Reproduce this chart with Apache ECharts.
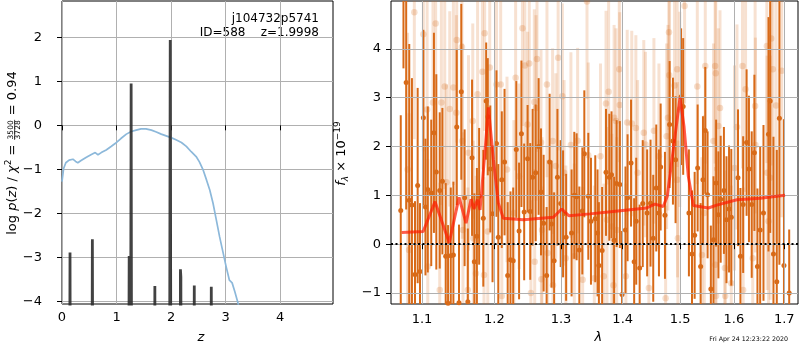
<!DOCTYPE html>
<html><head><meta charset="utf-8">
<script src="https://cdn.jsdelivr.net/npm/echarts@6/dist/echarts.min.js"></script>
<style>html,body{margin:0;padding:0;background:#fff}#c{width:800px;height:350px}</style>
</head><body><div id="c"></div>
<script>
// ---------- data ----------
const zTicks = [0, 1, 2, 3, 4];
const pTicks = [-4, -3, -2, -1, 0, 1, 2];
const lamTicks = [1.1, 1.2, 1.3, 1.4, 1.5, 1.6, 1.7];
const fTicks = [-1, 0, 1, 2, 3, 4];

// chi2 curve (z, scaled)
const chi2Curve = [[0,-1.28],[0.03,-0.98],[0.07,-0.85],[0.13,-0.79],[0.20,-0.77],[0.25,-0.82],[0.29,-0.85],[0.35,-0.80],[0.44,-0.73],[0.53,-0.67],[0.61,-0.62],[0.66,-0.67],[0.72,-0.62],[0.81,-0.56],[0.90,-0.48],[1.00,-0.39],[1.08,-0.30],[1.18,-0.20],[1.27,-0.14],[1.36,-0.11],[1.45,-0.08],[1.54,-0.08],[1.64,-0.11],[1.73,-0.15],[1.82,-0.20],[1.91,-0.24],[2.00,-0.28],[2.09,-0.33],[2.19,-0.39],[2.28,-0.48],[2.37,-0.60],[2.46,-0.71],[2.52,-0.83],[2.59,-1.02],[2.65,-1.24],[2.71,-1.47],[2.77,-1.77],[2.83,-2.15],[2.89,-2.53],[2.95,-2.87],[3.01,-3.21],[3.07,-3.52],[3.12,-3.58],[3.17,-3.78],[3.23,-4.05],[3.27,-4.30]];

// log p(z)
const logPz = [[0.0,-12],[0.13,-12],[0.147,-2.89],[0.16,-12],[0.54,-12],[0.557,-2.59],[0.575,-12],[1.21,-12],[1.232,-2.97],[1.245,-12],[1.255,-8],[1.268,0.95],[1.282,-12],[1.69,-12],[1.703,-3.65],[1.716,-12],[1.965,-12],[1.985,1.94],[2.005,-12],[2.16,-12],[2.172,-3.27],[2.18,-3.45],[2.19,-12],[2.41,-12],[2.426,-3.64],[2.44,-12],[2.72,-12],[2.738,-3.67],[2.755,-12],[4.97,-12]];

// model (lambda, flux)
const modelLine = [[1.0735,0.24],[1.1016,0.26],[1.1174,0.87],[1.1366,0.03],[1.1501,0.96],[1.1598,0.43],[1.1668,0.92],[1.1710,0.72],[1.1757,0.91],[1.1795,0.70],[1.1867,1.94],[1.1914,2.80],[1.1985,1.73],[1.2057,0.84],[1.2129,0.53],[1.2424,0.50],[1.2880,0.55],[1.3011,0.72],[1.3126,0.58],[1.3459,0.62],[1.3840,0.67],[1.4408,0.74],[1.4553,0.82],[1.4699,0.77],[1.4770,0.98],[1.4877,1.94],[1.4998,3.00],[1.5070,2.41],[1.5148,1.39],[1.5240,0.79],[1.5517,0.74],[1.5675,0.80],[1.6059,0.91],[1.6515,0.94],[1.7015,1.00]];

// dark spectrum points (lambda, flux, err)
const specDark = [[1.0723,0.69,1.95],[1.0758,5.3,1.7],[1.0793,3.31,2.6],[1.0833,0.9,3.2],[1.0868,0.8,2.6],[1.0908,-0.62,1.5],[1.0943,1.2,2.0],[1.0974,-0.56,1.4],[1.1018,2.59,1.8],[1.1046,0.76,1.4],[1.1077,1.12,1.7],[1.1123,1.05,1.5],[1.1159,2.28,2.05],[1.1191,1.48,2.0],[1.1237,1.10,1.6],[1.1273,1.29,1.5],[1.1318,-0.25,1.5],[1.1350,-1.21,1.6],[1.1387,-0.24,1.4],[1.1423,-0.22,1.5],[1.1469,2.40,1.6],[1.1500,-1.20,1.6],[1.1532,3.12,1.8],[1.1578,0.95,1.4],[1.1623,-1.18,1.5],[1.1682,1.77,1.6],[1.1714,-0.36,1.4],[1.1750,0.16,1.4],[1.1782,0.98,1.4],[1.1841,0.53,1.4],[1.1882,2.93,1.2],[1.1905,2.61,1.2],[1.1941,1.54,1.3],[1.1973,0.62,1.4],
[1.2030,2.06,1.5],[1.2056,0.14,1.5],[1.2107,1.32,1.4],[1.2147,1.68,1.5],[1.2193,-0.64,1.5],[1.2234,-0.32,1.4],[1.2274,-0.34,1.5],[1.2320,1.94,1.4],[1.2361,0.27,1.4],[1.2396,2.26,1.5],[1.2437,0.66,1.4],[1.2488,1.75,1.1],[1.2528,0.67,1.4],[1.2564,1.37,1.4],[1.2610,1.46,1.4],[1.2655,2.00,1.4],[1.2691,1.07,1.3],[1.2731,0.43,1.4],[1.2777,-0.64,1.4],[1.2823,1.68,1.4],[1.2853,0.41,1.3],[1.2893,-0.34,1.4],[1.2944,1.37,1.4],[1.2995,0.83,1.3],[1.3032,0.62,1.3],[1.3080,0.14,1.3],[1.3166,0.23,1.3],[1.3209,1.00,1.3],[1.3246,0.97,1.3],[1.3289,-0.12,1.3],[1.3337,0.68,1.3],[1.3369,1.85,1.3],[1.3433,0.98,1.3],[1.3476,0.47,1.3],[1.3546,0.52,1.3],[1.3583,0.23,1.3],
[1.3605,-0.44,1.3],[1.3658,-0.13,1.3],[1.3722,1.47,1.3],[1.3776,1.37,1.3],[1.3813,1.42,1.3],[1.3856,0.08,1.3],[1.3898,1.24,1.3],[1.3952,1.22,1.3],[1.3989,-1.03,1.3],[1.4047,0.29,1.3],[1.4082,0.95,1.3],[1.4141,1.66,1.3],[1.4194,-0.36,1.3],[1.4229,0.47,1.3],[1.4288,-0.49,1.3],[1.4341,0.83,1.3],[1.4417,0.64,1.3],[1.4476,0.84,1.3],[1.4523,0.12,1.3],[1.4576,1.15,1.3],[1.4623,0.64,1.3],[1.4653,1.58,1.3],[1.4729,0.59,1.3],[1.4812,2.45,1.3],[1.4871,2.11,1.3],[1.4918,1.73,1.3],[1.5018,3.02,1.4],[1.5055,2.82,1.4],[1.5159,0.64,1.3],[1.5215,-0.20,1.3],[1.5264,0.18,1.3],[1.5319,1.56,1.3],[1.5374,-0.46,1.3],
[1.5417,1.32,1.3],[1.5460,2.33,1.3],[1.5503,1.01,1.3],[1.5564,-0.92,1.3],[1.5613,0.09,1.3],[1.5663,1.25,1.3],[1.5706,0.60,1.3],[1.5749,0.92,1.3],[1.5810,1.10,1.3],[1.5859,0.50,1.3],[1.5908,0.72,1.3],[1.5951,0.55,1.4],[1.6080,1.36,1.4],[1.6127,-0.25,1.4],[1.6180,0.81,1.4],[1.6247,2.08,1.5],[1.6293,1.54,1.5],[1.6347,0.81,1.5],[1.6400,1.87,1.6],[1.6460,-0.46,1.6],[1.6514,0.29,1.7],[1.6580,0.64,1.8],[1.6680,2.25,2.4],[1.6714,2.93,2.7],[1.6780,-0.20,2.4],[1.6847,-0.77,2.7],[1.6900,2.58,3.0],[1.6993,-0.44,3.0],[1.7100,-1.0,1.3]];

// light spectrum points (lambda, flux, err)
const specLight = [[1.0811,1.53,2.8],[1.0830,-0.12,2.8],[1.0899,4.75,2.6],[1.1018,4.30,2.4],[1.1068,2.76,2.3],[1.1077,-0.46,2.2],[1.1146,2.90,2.2],[1.1182,4.52,2.3],[1.1237,-0.94,2.2],[1.1259,2.90,2.1],[1.1305,3.23,2.1],[1.1328,1.27,2.0],[1.1373,2.77,2.0],[1.1423,3.21,2.0],[1.1464,2.69,2.0],[1.1469,4.18,2.1],[1.1541,4.04,2.1],[1.1546,2.11,2.0],[1.1555,0.29,2.0],[1.1623,-0.94,2.1],[1.1632,1.87,2.0],[1.1692,2.52,2.0],[1.1700,0.12,2.0],[1.1737,-0.60,2.0],[1.1760,3.07,2.0],[1.1828,3.53,2.0],[1.1851,-0.63,2.0],[1.1860,4.32,2.0],[1.1905,0.26,2.0],[1.1933,3.62,2.0],
[1.2030,3.27,2.0],[1.2091,3.27,2.0],[1.2107,-1.06,2.0],[1.2183,1.53,1.9],[1.2284,0.64,1.9],[1.2310,3.41,1.9],[1.2361,1.39,1.9],[1.2411,4.42,2.0],[1.2447,3.66,1.9],[1.2488,2.45,1.9],[1.2513,3.70,1.9],[1.2538,-1.00,1.9],[1.2589,2.91,1.9],[1.2595,-0.36,1.9],[1.2615,2.79,1.9],[1.2630,3.79,1.9],[1.2691,2.08,1.9],[1.2697,-0.72,1.9],[1.2706,0.29,1.9],[1.2782,3.27,1.9],[1.2792,-0.18,1.9],[1.2869,2.11,1.9],[1.2875,-0.84,1.9],[1.2919,1.60,1.9],[1.2955,3.82,1.9],[1.3021,3.03,1.9],[1.3048,1.46,1.9],[1.3075,-0.29,1.9],[1.3155,2.03,1.9],[1.3209,-0.25,1.9],[1.3262,2.12,1.9],[1.3342,-0.73,1.9],[1.3412,4.97,2.0],[1.3433,1.82,1.9],[1.3530,-0.70,1.9],
[1.3631,1.80,1.9],[1.3685,-0.66,1.9],[1.3722,2.88,1.9],[1.3738,0.50,1.9],[1.3765,3.12,1.9],[1.3819,0.36,1.9],[1.3845,-0.84,1.9],[1.3856,2.59,1.9],[1.3888,2.52,1.9],[1.3899,0.29,1.9],[1.3942,3.58,1.9],[1.3950,2.85,1.9],[1.4053,-0.66,1.9],[1.4076,2.49,1.9],[1.4153,2.47,1.9],[1.4223,2.38,1.9],[1.4253,1.46,1.9],[1.4359,2.28,1.9],[1.4388,2.04,1.9],[1.4447,-0.90,1.9],[1.4535,2.32,1.9],[1.4623,1.80,1.9],[1.4741,-1.11,1.9],[1.4759,2.21,1.9],[1.4782,2.59,1.9],[1.4800,4.34,2.0],[1.4806,3.46,2.0],[1.4900,3.25,2.0],[1.4947,3.58,2.0],[1.4953,1.32,2.0],[1.4960,0.12,2.0],[1.4994,2.76,2.0],
[1.5080,4.88,2.0],[1.5313,3.23,2.0],[1.5398,-0.22,2.0],[1.5441,0.64,2.0],[1.5460,3.65,2.0],[1.5613,2.11,2.0],[1.5644,3.65,2.0],[1.5650,-0.42,2.0],[1.5656,3.50,2.0],[1.5662,-1.06,2.0],[1.5705,2.42,2.0],[1.5736,2.79,2.0],[1.5828,-0.49,2.0],[1.5835,-1.06,2.0],[1.5950,-0.80,2.0],[1.6013,1.56,2.1],[1.6060,2.40,2.1],[1.6167,3.65,2.1],[1.6180,-0.94,2.1],[1.6227,3.17,2.1],[1.6367,-0.29,2.2],[1.6414,2.83,2.2],[1.6420,2.03,2.2],[1.6647,4.06,2.4],[1.6653,1.46,2.4],[1.6680,0.47,2.5],[1.6714,1.36,2.5],[1.6734,4.21,2.6],[1.6767,3.58,2.6],[1.6834,2.84,2.8],[1.6947,3.55,3.0]];

const titleLines = ['j104732p5741', 'ID=588    z=1.9998'];
const stamp = 'Fri Apr 24 12:23:22 2020';

// ---------- helpers ----------
const FONT = 'DejaVu Sans';
const L10 = Math.log10;
const minus = v => String(v).replace('-', '\u2212');
const cv = document.createElement('canvas').getContext('2d');
function tw(t, size, style) { cv.font = (style || 'normal') + ' ' + size + 'px "' + FONT + '"'; return cv.measureText(t).width; }

function rotLabel(parts, cx, cy) {
  let total = 0;
  parts.forEach(p => { p.w = p.frac ? Math.max(tw(p.frac[0], p.size), tw(p.frac[1], p.size)) + 2 : tw(p.t, p.size, p.style); total += p.w; });
  let x = -total / 2; const ch = [];
  parts.forEach(p => {
    if (p.frac) {
      ch.push({type: 'text', x: x + p.w / 2, y: p.dy[0], style: {text: p.frac[0], fontSize: p.size, fontFamily: FONT, fill: '#000', align: 'center', verticalAlign: 'middle'}});
      ch.push({type: 'text', x: x + p.w / 2, y: p.dy[1], style: {text: p.frac[1], fontSize: p.size, fontFamily: FONT, fill: '#000', align: 'center', verticalAlign: 'middle'}});
      ch.push({type: 'line', shape: {x1: x + 0.5, y1: p.dy[2], x2: x + p.w - 0.5, y2: p.dy[2]}, style: {stroke: '#000', lineWidth: 0.7}});
    } else {
      ch.push({type: 'text', x: x, y: p.dy || 0, style: {text: p.t, fontSize: p.size, fontStyle: p.style || 'normal', fontFamily: FONT, fill: '#000', align: 'left', verticalAlign: 'middle'}});
    }
    x += p.w;
  });
  return {type: 'group', x: cx, y: cy, rotation: Math.PI / 2, children: ch};
}

function errRender(color, width, opacity) {
  return function (params, api) {
    const x = api.value(0), lo = api.value(1), hi = api.value(2);
    const p1 = api.coord([x, hi]), p2 = api.coord([x, lo]);
    const cs = params.coordSys;
    const t = cs.y, b = cs.y + cs.height;
    const y1 = Math.max(t, Math.min(b, p1[1])), y2 = Math.max(t, Math.min(b, p2[1]));
    if (y2 - y1 < 0.1) return null;
    return {type: 'line', shape: {x1: p1[0], y1: y1, x2: p1[0], y2: y2}, style: {stroke: color, lineWidth: width, opacity: opacity}};
  };
}

const ORANGE = '#d86a18';
const darkErr = specDark.map(d => [L10(d[0]), d[1] - d[2], d[1] + d[2]]);
const darkPts = specDark.map(d => [L10(d[0]), d[1]]);
const lightErr = specLight.map(d => [L10(d[0]), d[1] - d[2], d[1] + d[2]]);
const lightPts = specLight.map(d => [L10(d[0]), d[1]]);
const modelPts = modelLine.map(d => [L10(d[0]), d[1]]);

const axisTickStyle = {show: true, length: 5, inside: false, lineStyle: {color: '#000', width: 1}};
const splitStyle = {show: true, lineStyle: {color: '#b0b0b0', width: 1}};
const lab = (m, extra) => Object.assign({show: true, color: '#000', fontSize: 13, fontFamily: FONT, margin: m}, extra || {});

const option = {
  animation: false,
  backgroundColor: '#fff',
  grid: [
    {left: 62, top: 1, width: 271, height: 303, show: true, borderColor: '#000', borderWidth: 1, backgroundColor: 'transparent'},
    {left: 391, top: 1, width: 407, height: 303, show: true, borderColor: '#000', borderWidth: 1, backgroundColor: 'transparent'}
  ],
  xAxis: [
    {type: 'value', gridIndex: 0, min: 0, max: 4.97, axisLine: {show: false},
      axisTick: Object.assign({}, axisTickStyle, {customValues: zTicks}),
      axisLabel: lab(7.5, {customValues: zTicks, formatter: minus}), splitLine: splitStyle},
    {type: 'value', gridIndex: 1, min: L10(1.0598), max: L10(1.7282), axisLine: {show: false}, z: 3,
      axisTick: Object.assign({}, axisTickStyle, {customValues: lamTicks.map(L10)}),
      axisLabel: lab(9, {customValues: lamTicks.map(L10), formatter: v => Math.pow(10, v).toFixed(1)}), splitLine: splitStyle}
  ],
  yAxis: [
    {type: 'value', gridIndex: 0, min: -4.06, max: 2.825, axisLine: {show: false},
      axisTick: Object.assign({}, axisTickStyle, {customValues: pTicks}),
      axisLabel: lab(20, {customValues: pTicks, formatter: minus}), splitLine: splitStyle},
    {type: 'value', gridIndex: 1, min: -1.226, max: 4.98, axisLine: {show: false}, z: 3,
      axisTick: Object.assign({}, axisTickStyle, {customValues: fTicks}),
      axisLabel: lab(10, {customValues: fTicks, formatter: minus}), splitLine: splitStyle}
  ],
  series: [
    {type: 'line', xAxisIndex: 0, yAxisIndex: 0, data: chi2Curve, showSymbol: false, symbol: 'none', clip: true, z: 2,
      lineStyle: {color: '#8cb8da', width: 1.7}},
    {type: 'line', xAxisIndex: 0, yAxisIndex: 0, data: logPz, showSymbol: false, symbol: 'none', clip: true, z: 3,
      lineStyle: {color: '#2e2e2e', width: 2.8, opacity: 0.9}},
    {type: 'custom', xAxisIndex: 1, yAxisIndex: 1, data: lightErr, renderItem: errRender(ORANGE, 3, 0.2), encode: {x: 0, y: [1, 2]}, z: 1, clip: true},
    {type: 'scatter', xAxisIndex: 1, yAxisIndex: 1, data: lightPts, symbolSize: 6.5, itemStyle: {color: ORANGE, opacity: 0.22}, z: 1, clip: true},
    {type: 'custom', xAxisIndex: 1, yAxisIndex: 1, data: darkErr, renderItem: errRender(ORANGE, 2, 1), encode: {x: 0, y: [1, 2]}, z: 2, clip: true},
    {type: 'scatter', xAxisIndex: 1, yAxisIndex: 1, data: darkPts, symbolSize: 5, itemStyle: {color: ORANGE, opacity: 1}, z: 2, clip: true},
    {type: 'line', xAxisIndex: 1, yAxisIndex: 1, data: modelPts, showSymbol: false, symbol: 'none', clip: true, z: 4,
      lineStyle: {color: '#ff1a00', width: 3, opacity: 0.7},
      markLine: {silent: true, symbol: 'none', label: {show: false}, animation: false,
        lineStyle: {color: '#000', type: [2, 2.5], width: 1.8, opacity: 1}, data: [{yAxis: 0}]}}
  ],
  graphic: [
    {type: 'text', right: 800 - 319, top: 13, style: {text: titleLines[0], fontSize: 12, fontFamily: FONT, fill: '#000'}},
    {type: 'text', right: 800 - 319, top: 27, style: {text: titleLines[1], fontSize: 12, fontFamily: FONT, fill: '#000'}},
    {type: 'text', left: 197.5, top: 331, style: {text: 'z', fontSize: 13, fontStyle: 'italic', fontFamily: FONT, fill: '#000', align: 'center'}},
    {type: 'text', left: 594.5, top: 331, style: {text: 'λ', fontSize: 13, fontStyle: 'italic', fontFamily: FONT, fill: '#000', align: 'center'}},
    {type: 'text', right: 800 - 788, top: 336, style: {text: stamp, fontSize: 6.3, fontFamily: FONT, fill: '#000'}},
    rotLabel([
      {t: 'log ', size: 13}, {t: 'p', size: 13, style: 'italic'}, {t: '(', size: 13}, {t: 'z', size: 13, style: 'italic'},
      {t: ') / ', size: 13}, {t: 'χ', size: 13, style: 'italic'}, {t: '2', size: 9, dy: -4}, {t: ' = ', size: 13},
      {frac: ['3500', '3728'], size: 7.5, dy: [-1.2, 5.4, 2.1]}, {t: ' = 0.94', size: 13}
    ], 12.5, 153),
    rotLabel([
      {t: 'f', size: 13, style: 'italic'}, {t: 'λ', size: 9, style: 'italic', dy: 3.5}, {t: ' × 10', size: 13},
      {t: '\u221219', size: 9, dy: -4.5}
    ], 342, 153.5)
  ]
};

const chart = echarts.init(document.getElementById('c'), null, {renderer: 'canvas'});
chart.setOption(option);
</script></body></html>
